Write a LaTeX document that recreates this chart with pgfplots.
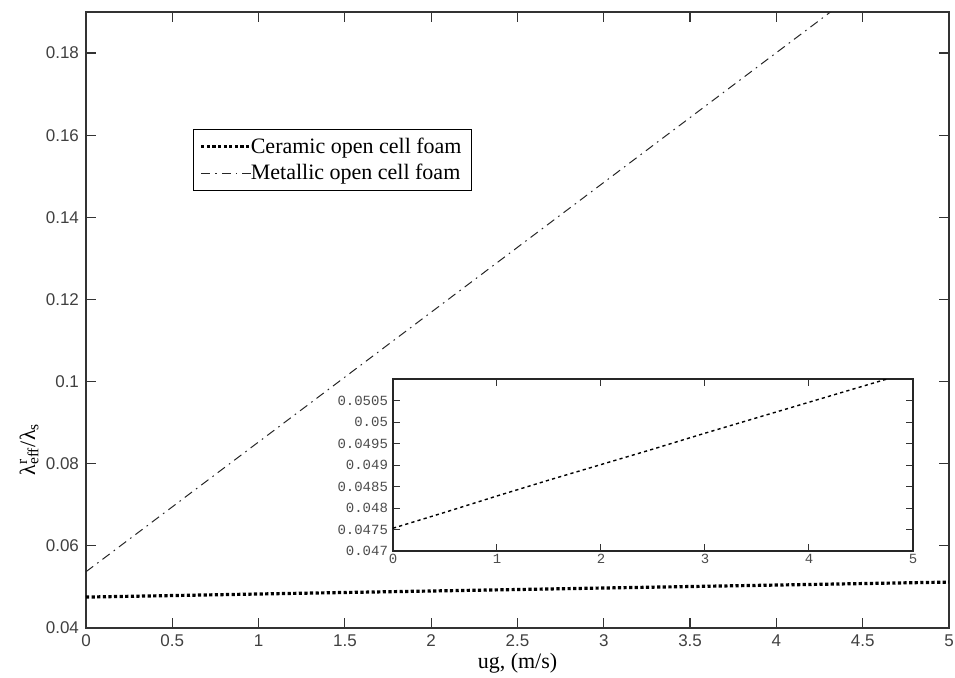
\documentclass[border=0pt]{standalone}
\usepackage{fontspec}
\setmainfont{Liberation Serif}
\setsansfont{Liberation Sans}
\setmonofont{Liberation Mono}
\usepackage{pgfplots}
\pgfplotsset{compat=1.18}

% ceramic foam (same data drawn in the main axis and the inset)
\pgfplotstableread{
x     y
0     0.04753
0.5   0.04790
1     0.04828
1.5   0.04865
2     0.04901
2.5   0.04937
3     0.04974
3.5   0.05010
4     0.05046
4.5   0.05082
5     0.05118
}\ceramic

\pgfplotstableread{
x     y
0     0.0537
1     0.0853
2     0.1169
3     0.1485
4     0.1801
5     0.2117
}\metallic

\begin{document}
\begin{tikzpicture}
\begin{axis}[
    name=main,
    at={(0,0)}, anchor=south west,
    scale only axis,
    width=431.5pt, height=308pt,
    xmin=0, xmax=5, ymin=0.04, ymax=0.19,
    xtick={0,0.5,...,5},
    xticklabels={0,0.5,1,1.5,2,2.5,3,3.5,4,4.5,5},
    ytick={0.04,0.06,...,0.18},
    yticklabels={0.04,0.06,0.08,0.1,0.12,0.14,0.16,0.18},
    tick align=inside,
    major tick length=5pt,
    axis line style={black!80, line width=0.6pt},
    tick style={black!80, line width=0.6pt},
    ticklabel style={font=\sffamily\fontsize{8.5}{10}\selectfont, text=black!75},
    /pgf/number format/assume math mode=true,
    xlabel={ug, (m/s)},
    xlabel style={font=\fontsize{11}{13}\selectfont, at={(axis description cs:0.5,-0.057)}, anchor=center},
    ylabel={λ\rlap{\textsuperscript{r}}\textsubscript{eff}/λ\textsubscript{s}},
    ylabel style={font=\fontsize{11}{13}\selectfont, at={(axis description cs:-0.066,0.29)}, anchor=center},
    legend style={at={(axis cs:0.62,0.1615)}, anchor=north west,
        draw=black, line width=0.6pt, font=\fontsize{11}{12.5}\selectfont,
        inner xsep=3pt, inner ysep=2pt, row sep=0pt, cells={anchor=west}},
    legend image code/.code={\draw[#1] (0pt,0pt) -- (26pt,0pt);},
    legend cell align=left,
]
\addplot[black, line width=1.6pt, dash pattern=on 1.6pt off 1.2pt] table[x=x,y=y] {\ceramic};
\addlegendentry{\hspace{-4pt}Ceramic open cell foam}
\addplot[black!85, line width=0.5pt, dash pattern=on 4.5pt off 2.5pt on 0.8pt off 2.5pt] table[x=x,y=y] {\metallic};
\addlegendentry{\hspace{-4pt}Metallic open cell foam}
\end{axis}

\begin{axis}[
    at={(153.5pt,38.5pt)}, anchor=south west,
    scale only axis,
    width=260pt, height=86pt,
    xmin=0, xmax=5, ymin=0.047, ymax=0.051,
    xtick={0,1,...,5},
    xticklabels={0,1,2,3,4,5},
    ytick={0.047,0.0475,...,0.0505},
    yticklabels={0.047,0.0475,0.048,0.0485,0.049,0.0495,0.05,0.0505},
    scaled y ticks=false,
    tick align=inside,
    major tick length=3.5pt,
    axis background/.style={fill=white},
    axis line style={black!85, line width=0.6pt},
    tick style={black!80, line width=0.5pt},
    ticklabel style={font=\ttfamily\fontsize{7}{8}\selectfont, text=black!70},
    xticklabel style={yshift=2pt},
    yticklabel style={xshift=1pt},
    /pgf/number format/assume math mode=true,
]
\addplot[black, line width=0.7pt, dash pattern=on 1.6pt off 1.6pt] table[x=x,y=y] {\ceramic};
\end{axis}
\pgfresetboundingbox
\path (-43pt,-24.5pt) rectangle (434.5pt,314pt);
\end{tikzpicture}
\end{document}
